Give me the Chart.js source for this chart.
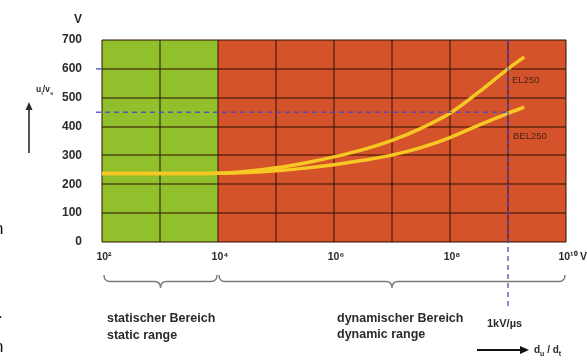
<!DOCTYPE html>
<html>
<head>
<meta charset="utf-8">
<script src="https://cdn.jsdelivr.net/npm/chart.js@4.4.1/dist/chart.umd.min.js"></script>
<style>
  html, body { margin: 0; padding: 0; background: #ffffff; }
  #wrap { position: relative; width: 587px; height: 360px; }
</style>
</head>
<body>
<div id="wrap"><canvas id="chart" width="587" height="360"></canvas></div>
<script>
// rate of voltage rise (V/s) and the two curves
const riseRates = [1e2, 1e3, 1e4, 3.16e4, 1e5, 3.16e5, 1e6, 3.16e6, 1e7, 3.16e7, 1e8, 3.16e8, 1e9, 1.9e9];
const upperCurve = [237, 237, 238, 245, 257, 274, 295, 320, 352, 394, 446, 520, 600, 641];
const lowerCurve = [237, 237, 238, 241, 247, 256, 268, 283, 301, 327, 362, 405, 446, 467];
const curveNames = ['EL250', 'BEL250'];

const yTicks = [0, 100, 200, 300, 400, 500, 600, 700];
const xTickValues = [1e2, 1e4, 1e6, 1e8, 1e10];
const xTickLabels = ['10²', '10⁴', '10⁶', '10⁸', '10¹⁰'];
const xGridValues = [1e2, 1e3, 1e4, 1e5, 1e6, 1e7, 1e8, 1e9, 1e10];

const staticEnd = 1e4;     // green range ends here
const markRate = 1e9;      // 1 kV/µs
const markVolt = 450;

const GREEN = '#92bf2c';
const RED = '#d5532a';
const DASH = 'rgba(70,70,200,0.85)';
const TXT = '#2b2b2b';
const FONT = '"Liberation Sans", Arial, sans-serif';

const backgroundPlugin = {
    id: 'ranges',
    beforeDraw(chart) {
        const { ctx, chartArea, scales } = chart;
        const xs = scales.x;
        const xMid = xs.getPixelForValue(staticEnd);
        ctx.save();
        ctx.fillStyle = GREEN;
        ctx.fillRect(chartArea.left, chartArea.top, xMid - chartArea.left, chartArea.bottom - chartArea.top);
        ctx.fillStyle = RED;
        ctx.fillRect(xMid, chartArea.top, chartArea.right - xMid, chartArea.bottom - chartArea.top);
        ctx.restore();
    }
};

function subText(ctx, parts, x, y, size) {
    // parts: [text, isSub]
    let cx = x;
    parts.forEach(([t, sub]) => {
        ctx.font = 'bold ' + (sub ? size * 0.7 : size) + 'px ' + FONT;
        ctx.fillText(t, cx, sub ? y + size * 0.3 : y);
        cx += ctx.measureText(t).width;
    });
}

function brace(ctx, x1, x2, y, h) {
    const m = (x1 + x2) / 2;
    ctx.beginPath();
    ctx.moveTo(x1, y);
    ctx.quadraticCurveTo(x1, y + h * 0.5, x1 + 6, y + h * 0.5);
    ctx.lineTo(m - 6, y + h * 0.5);
    ctx.quadraticCurveTo(m, y + h * 0.5, m, y + h);
    ctx.quadraticCurveTo(m, y + h * 0.5, m + 6, y + h * 0.5);
    ctx.lineTo(x2 - 6, y + h * 0.5);
    ctx.quadraticCurveTo(x2, y + h * 0.5, x2, y);
    ctx.stroke();
}

const annotationPlugin = {
    id: 'annotations',
    afterDatasetsDraw(chart) {
        const { ctx, chartArea, scales } = chart;
        const xs = scales.x, ys = scales.y;
        const xMark = xs.getPixelForValue(markRate);
        const yMark = ys.getPixelForValue(markVolt);
        ctx.save();
        // dashed guide lines
        ctx.strokeStyle = DASH;
        ctx.lineWidth = 1.5;
        ctx.setLineDash([5, 4]);
        ctx.beginPath();
        ctx.moveTo(chartArea.left - 6, yMark);
        ctx.lineTo(xMark, yMark);
        ctx.moveTo(xMark, chartArea.top);
        ctx.lineTo(xMark, 306);
        ctx.stroke();
        ctx.setLineDash([]);
        ctx.beginPath();
        const y600 = ys.getPixelForValue(600);
        ctx.moveTo(chartArea.left - 6, y600);
        ctx.lineTo(chartArea.left, y600);
        ctx.stroke();

        // curve names
        ctx.fillStyle = '#4a2418';
        ctx.font = '9.5px ' + FONT;
        ctx.textAlign = 'left';
        ctx.textBaseline = 'middle';
        ctx.fillText(curveNames[0], xMark + 4, ys.getPixelForValue(560));
        ctx.fillText(curveNames[1], xMark + 5, ys.getPixelForValue(366));
        ctx.restore();
    },
    afterDraw(chart) {
        const { ctx, scales } = chart;
        const xs = scales.x, ys = scales.y;
        ctx.save();
        ctx.fillStyle = TXT;
        // y tick labels
        ctx.font = 'bold 12px ' + FONT;
        ctx.textAlign = 'right';
        ctx.textBaseline = 'middle';
        yTicks.forEach(v => ctx.fillText(String(v), 82, ys.getPixelForValue(v)));
        ctx.textAlign = 'center';
        ctx.fillText('V', 78, 20);

        // x tick labels
        ctx.font = 'bold 10.5px ' + FONT;
        xTickValues.forEach((v, i) => {
            ctx.fillText(xTickLabels[i], xs.getPixelForValue(v) + 2, 257);
        });
        ctx.textAlign = 'left';
        ctx.fillText('V/s', xs.getPixelForValue(1e10) + 14, 257);

        // y axis label with arrow
        ctx.textBaseline = 'alphabetic';
        subText(ctx, [['u', false], ['i', true], ['/', false], ['v', false], ['s', true]], 36, 92, 8.5);
        ctx.strokeStyle = TXT;
        ctx.lineWidth = 1.6;
        ctx.beginPath();
        ctx.moveTo(29, 153);
        ctx.lineTo(29, 108);
        ctx.stroke();
        ctx.beginPath();
        ctx.moveTo(29, 102);
        ctx.lineTo(25.5, 110);
        ctx.lineTo(32.5, 110);
        ctx.closePath();
        ctx.fill();

        // braces
        ctx.strokeStyle = '#7a7a7a';
        ctx.lineWidth = 1.4;
        const xa = xs.getPixelForValue(xTickValues[0]);
        const xb = xs.getPixelForValue(staticEnd);
        const xc = xs.getPixelForValue(xTickValues[xTickValues.length - 1]);
        brace(ctx, xa + 2, xb - 1, 275, 13);
        brace(ctx, xb + 1, xc - 1, 275, 13);

        // range texts
        ctx.fillStyle = TXT;
        ctx.font = 'bold 12.5px ' + FONT;
        ctx.textBaseline = 'middle';
        ctx.fillText('statischer Bereich', 107, 319);
        ctx.fillText('static range', 107, 336);
        ctx.fillText('dynamischer Bereich', 337, 319);
        ctx.fillText('dynamic range', 337, 335);
        ctx.font = 'bold 11px ' + FONT;
        ctx.fillText('1kV/µs', 487, 324);

        // x direction arrow
        ctx.strokeStyle = '#111';
        ctx.lineWidth = 2;
        ctx.beginPath();
        ctx.moveTo(477, 350);
        ctx.lineTo(522, 350);
        ctx.stroke();
        ctx.fillStyle = '#111';
        ctx.beginPath();
        ctx.moveTo(529, 350);
        ctx.lineTo(520, 346);
        ctx.lineTo(520, 354);
        ctx.closePath();
        ctx.fill();
        ctx.fillStyle = TXT;
        ctx.textBaseline = 'alphabetic';
        subText(ctx, [['d', false], ['u', true], [' / ', false], ['d', false], ['t', true]], 534, 353, 10);

        // cut-off letters from the surrounding page
        ctx.fillStyle = '#111';
        ctx.font = '17px ' + FONT;
        ctx.fillText('n', -6, 234);
        ctx.fillText('.', -2, 318);
        ctx.fillText('n', -6, 352);
        ctx.restore();
    }
};

const lineStyle = {
    borderColor: '#f7c824',
    borderWidth: 3.5,
    pointRadius: 0,
    fill: false,
    cubicInterpolationMode: 'monotone'
};

new Chart('chart', {
    type: 'line',
    data: {
        datasets: [
            { label: curveNames[0], data: riseRates.map((r, i) => ({ x: r, y: upperCurve[i] })), ...lineStyle },
            { label: curveNames[1], data: riseRates.map((r, i) => ({ x: r, y: lowerCurve[i] })), ...lineStyle }
        ]
    },
    options: {
        responsive: false,
        animation: false,
        layout: { padding: { left: 102, top: 40, right: 21, bottom: 118 } },
        plugins: {
            legend: { display: false },
            tooltip: { enabled: false }
        },
        scales: {
            x: {
                type: 'logarithmic',
                min: 1e2,
                max: 1e10,
                afterBuildTicks: (scale) => {
                    scale.ticks = xGridValues.map(v => ({ value: v }));
                },
                ticks: { display: false },
                border: { display: false },
                grid: { color: 'rgba(45,15,0,0.5)', lineWidth: 2, drawTicks: false }
            },
            y: {
                min: 0,
                max: 700,
                afterBuildTicks: (scale) => {
                    scale.ticks = yTicks.map(v => ({ value: v }));
                },
                ticks: { display: false },
                border: { display: false },
                grid: { color: 'rgba(45,15,0,0.5)', lineWidth: 2, drawTicks: false }
            }
        }
    },
    plugins: [backgroundPlugin, annotationPlugin]
});
</script>
</body>
</html>
